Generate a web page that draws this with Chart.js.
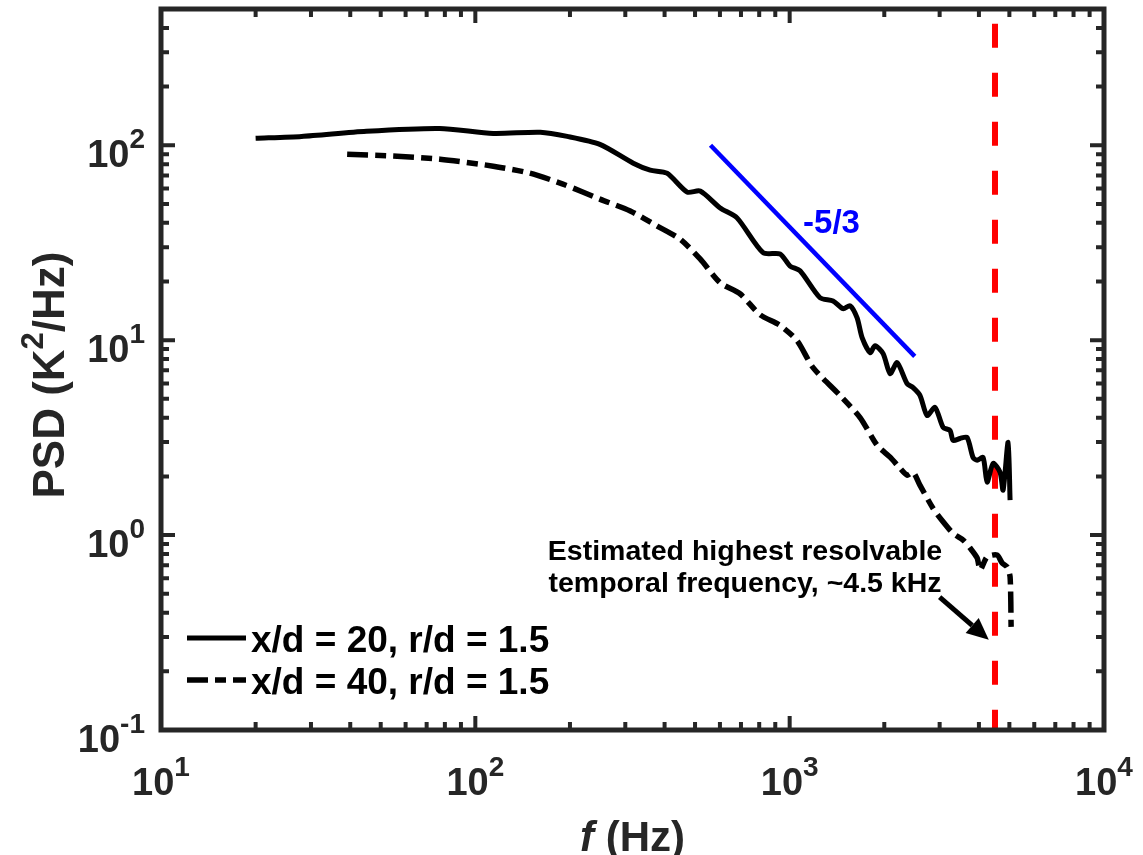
<!DOCTYPE html>
<html lang="en">
<head>
<meta charset="UTF-8">
<title>PSD spectra</title>
<style>
  html, body { margin: 0; padding: 0; background: #fff; }
  #wrap { width: 1143px; height: 855px; }
</style>
</head>
<body>
<div id="wrap"><canvas id="psdChart" width="1143" height="855"></canvas></div>
<script src="https://cdn.jsdelivr.net/npm/chart.js"></script>
<script>
// x/d = 20, r/d = 1.5 (solid)
const freq20 = [20, 28, 45, 77, 114, 161, 196, 249, 318, 360, 407, 472, 519, 601, 680, 823, 932, 1003, 1079,
  1249, 1374, 1479, 1557, 1639, 1700, 1803, 1869, 1983, 2087, 2197, 2363, 2470, 2599, 2736, 2901, 3077, 3238,
  3311, 3485, 3668, 3832, 3948, 4125, 4247, 4438, 4671, 4775, 4953, 5026];
const psd20 = [108.6, 111, 118, 122, 115, 116.6, 111, 101, 80.9, 74.5, 71.9, 57.5, 58.2, 47.7, 42.4, 28.1, 27.7, 24.0, 22.7,
  16.5, 15.9, 14.5, 15.0, 13.0, 10.3, 8.63, 9.37, 8.53, 6.74, 7.67, 5.99, 5.71, 5.20, 4.11, 4.52, 3.57, 3.44,
  3.06, 3.13, 3.17, 2.50, 2.42, 2.50, 1.87, 2.33, 2.10, 1.70, 2.99, 1.51];

// x/d = 40, r/d = 1.5 (dashed)
const freq40 = [39.1, 56.4, 77.2, 114, 149, 190, 249, 311, 379, 448, 519, 601, 695, 805, 932, 1056, 1187, 1447, 1675,
  1897, 2087, 2246, 2363, 2470, 2599, 2860, 3077, 3311, 3563, 3750, 3948, 4036, 4247, 4570, 4742, 4918, 5026, 5064];
const psd40 = [89.9, 87.8, 84.8, 78.1, 71.9, 63.2, 52.9, 46.0, 38.5, 33.0, 26.1, 19.7, 17.3, 13.5, 11.9, 9.94, 7.23, 5.20, 4.01,
  2.89, 2.51, 2.20, 2.03, 2.10, 1.80, 1.37, 1.17, 1.02, 0.943, 0.858, 0.763, 0.662, 0.772, 0.790, 0.719, 0.686, 0.610, 0.338];

// -5/3 reference slope and the resolution limit
const slopeFreq = [560, 2500];
const slopePsd = [100, 8.26];
const cutoffFreq = [4500, 4500];
const cutoffPsd = [420, 0.1];

const xExps = [1, 2, 3, 4];
const yExps = [-1, 0, 1, 2];
const legendLabels = ['x/d = 20, r/d = 1.5', 'x/d = 40, r/d = 1.5'];
const noteLines = ['Estimated highest resolvable', 'temporal frequency, ~4.5 kHz'];
const noteAt = [721, 0.745];     // centre of first text line (Hz, PSD)
const arrowFrom = [3000, 0.48];
const arrowTo = [4300, 0.29];
const slopeLabelAt = [1103, 35.5];

const ink = '#262626';
const FONT = '"Liberation Sans", Arial, sans-serif';

const pts = (xs, ys) => xs.map((x, i) => ({ x: x, y: ys[i] }));

function logMarks(lo, hi) {
  const out = [];
  for (let e = Math.floor(Math.log10(lo)); e <= Math.ceil(Math.log10(hi)); e++) {
    for (let m = 1; m < 10; m++) {
      const v = m * Math.pow(10, e);
      if (v >= lo * 0.999 && v <= hi * 1.001) out.push({ v: v, major: m === 1 });
    }
  }
  return out;
}

// "10" with a raised exponent
function powText(ctx, exp, x, base, align) {
  ctx.font = 'bold 38px ' + FONT;
  const wb = ctx.measureText('10').width;
  ctx.font = 'bold 28px ' + FONT;
  const we = ctx.measureText(String(exp)).width;
  const total = wb + we;
  let x0 = x;
  if (align === 'center') x0 = x - total / 2;
  if (align === 'right') x0 = x - total;
  ctx.textAlign = 'left';
  ctx.textBaseline = 'alphabetic';
  ctx.font = 'bold 38px ' + FONT;
  ctx.fillText('10', x0, base);
  ctx.font = 'bold 28px ' + FONT;
  ctx.fillText(String(exp), x0 + wb, base - 19);
}

const decorPlugin = {
  id: 'decor',
  afterDraw(chart) {
    const ctx = chart.ctx;
    const xs = chart.scales.x, ys = chart.scales.y;
    const a = chart.chartArea;
    ctx.save();
    ctx.fillStyle = ink;
    ctx.strokeStyle = ink;

    // inward ticks on all four sides
    ctx.lineWidth = 4;
    ctx.lineCap = 'butt';
    logMarks(xs.min, xs.max).forEach(t => {
      const p = xs.getPixelForValue(t.v);
      const len = t.major ? 14 : 8;
      ctx.beginPath();
      ctx.moveTo(p, a.bottom); ctx.lineTo(p, a.bottom - len);
      ctx.moveTo(p, a.top); ctx.lineTo(p, a.top + len);
      ctx.stroke();
    });
    logMarks(ys.min, ys.max).forEach(t => {
      const p = ys.getPixelForValue(t.v);
      const len = t.major ? 14 : 8;
      ctx.beginPath();
      ctx.moveTo(a.left, p); ctx.lineTo(a.left + len, p);
      ctx.moveTo(a.right, p); ctx.lineTo(a.right - len, p);
      ctx.stroke();
    });

    // box
    ctx.lineWidth = 5;
    ctx.strokeRect(a.left, a.top, a.right - a.left, a.bottom - a.top);

    // tick labels
    xExps.forEach(e => powText(ctx, e, xs.getPixelForValue(Math.pow(10, e)), a.bottom + 65, 'center'));
    yExps.forEach(e => powText(ctx, e, a.left - 16, ys.getPixelForValue(Math.pow(10, e)) + 22, 'right'));

    // x title
    ctx.textBaseline = 'alphabetic';
    ctx.textAlign = 'left';
    ctx.font = 'italic bold 42px ' + FONT;
    const wf = ctx.measureText('f').width;
    ctx.font = 'bold 42px ' + FONT;
    const wr = ctx.measureText(' (Hz)').width;
    const xc = (a.left + a.right) / 2;
    const x0 = xc - (wf + wr) / 2;
    ctx.font = 'italic bold 42px ' + FONT;
    ctx.fillText('f', x0, 851);
    ctx.font = 'bold 42px ' + FONT;
    ctx.fillText(' (Hz)', x0 + wf, 851);

    // y title
    ctx.save();
    ctx.translate(64, 375);
    ctx.rotate(-Math.PI / 2);
    ctx.font = 'bold 44px ' + FONT;
    const w1 = ctx.measureText('PSD (K').width;
    const w3 = ctx.measureText('/Hz)').width;
    ctx.font = 'bold 31px ' + FONT;
    const w2 = ctx.measureText('2').width;
    const s = -(w1 + w2 + w3) / 2;
    ctx.font = 'bold 44px ' + FONT;
    ctx.fillText('PSD (K', s, 0);
    ctx.fillText('/Hz)', s + w1 + w2, 0);
    ctx.font = 'bold 31px ' + FONT;
    ctx.fillText('2', s + w1, -21);
    ctx.restore();

    // legend
    const rows = [chart.data.datasets[0], chart.data.datasets[1]];
    rows.forEach((ds, i) => {
      const yy = 638 + i * 42;
      ctx.save();
      ctx.strokeStyle = ds.borderColor;
      ctx.lineWidth = ds.borderWidth;
      ctx.setLineDash(ds.borderDash || []);
      ctx.beginPath();
      ctx.moveTo(187, yy); ctx.lineTo(246, yy);
      ctx.stroke();
      ctx.restore();
      ctx.fillStyle = '#000';
      ctx.font = 'bold 37px ' + FONT;
      ctx.textAlign = 'left';
      ctx.fillText(legendLabels[i], 251, yy + 14);
    });

    // -5/3 label
    ctx.fillStyle = '#0000ff';
    ctx.font = 'bold 33px ' + FONT;
    ctx.fillText('-5/3', xs.getPixelForValue(slopeLabelAt[0]), ys.getPixelForValue(slopeLabelAt[1]));

    // annotation text
    ctx.fillStyle = '#000';
    ctx.font = 'bold 28.5px ' + FONT;
    ctx.textAlign = 'center';
    const nx = xs.getPixelForValue(noteAt[0]);
    const ny = ys.getPixelForValue(noteAt[1]);
    noteLines.forEach((t, i) => ctx.fillText(t, nx, ny + i * 32));

    // arrow
    const ax0 = xs.getPixelForValue(arrowFrom[0]), ay0 = ys.getPixelForValue(arrowFrom[1]);
    const ax1 = xs.getPixelForValue(arrowTo[0]), ay1 = ys.getPixelForValue(arrowTo[1]);
    const ang = Math.atan2(ay1 - ay0, ax1 - ax0);
    const hl = 22, hw = 10;
    const bx = ax1 - hl * Math.cos(ang), by = ay1 - hl * Math.sin(ang);
    ctx.strokeStyle = '#000';
    ctx.lineWidth = 5;
    ctx.beginPath();
    ctx.moveTo(ax0, ay0); ctx.lineTo(bx, by);
    ctx.stroke();
    ctx.beginPath();
    ctx.moveTo(ax1, ay1);
    ctx.lineTo(bx + hw * Math.sin(ang), by - hw * Math.cos(ang));
    ctx.lineTo(bx - hw * Math.sin(ang), by + hw * Math.cos(ang));
    ctx.closePath();
    ctx.fill();

    ctx.restore();
  }
};

new Chart(document.getElementById('psdChart'), {
  type: 'line',
  data: {
    datasets: [
      { label: legendLabels[0], data: pts(freq20, psd20), borderColor: '#000', borderWidth: 5,
        pointRadius: 0, tension: 0.25, borderJoinStyle: 'round' },
      { label: legendLabels[1], data: pts(freq40, psd40), borderColor: '#000', borderWidth: 5.5,
        borderDash: [21, 7, 11, 7], pointRadius: 0, tension: 0.25, borderJoinStyle: 'round' },
      { label: '-5/3', data: pts(slopeFreq, slopePsd), borderColor: '#0000ff', borderWidth: 4.5,
        pointRadius: 0, tension: 0 },
      { label: 'limit', data: pts(cutoffFreq, cutoffPsd), borderColor: '#ff0000', borderWidth: 6,
        borderDash: [24, 25], pointRadius: 0, tension: 0 }
    ]
  },
  options: {
    responsive: false,
    animation: false,
    layout: { padding: { left: 161, top: 9, right: 39, bottom: 125 } },
    plugins: { legend: { display: false }, tooltip: { enabled: false } },
    scales: {
      x: { type: 'logarithmic', min: 10, max: 10000, display: false },
      y: { type: 'logarithmic', min: 0.1, max: 500, display: false }
    }
  },
  plugins: [decorPlugin]
});
</script>
</body>
</html>
